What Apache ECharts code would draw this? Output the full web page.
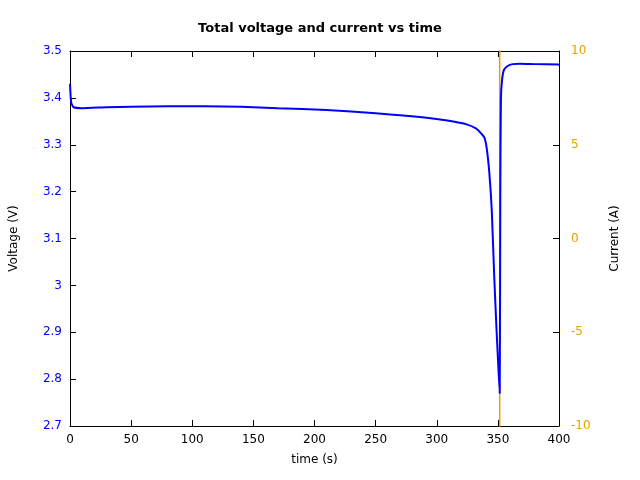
<!DOCTYPE html>
<html><head><meta charset="utf-8">
<script src="https://cdn.jsdelivr.net/npm/echarts@6/dist/echarts.min.js"></script>
<style>html,body{margin:0;background:#fff}#c{width:640px;height:480px}</style>
</head><body><div id="c"></div>
<script>
// voltage vs time
const voltTime = [0, 1, 3, 10, 30, 50, 80, 110, 140, 170, 210, 250, 290, 310, 325, 332, 336, 339, 341, 343, 345, 347, 349, 350.5, 351.5, 352, 352.5, 353.5, 355, 358, 362, 368, 380, 400]
const voltage = [3.43, 3.39, 3.38, 3.378, 3.38, 3.381, 3.382, 3.382, 3.381, 3.378, 3.374, 3.367, 3.358, 3.351, 3.343, 3.335, 3.325, 3.315, 3.29, 3.24, 3.16, 3.02, 2.9, 2.82, 2.77, 3.2, 3.4, 3.44, 3.46, 3.468, 3.472, 3.473, 3.472, 3.471]
// current only shows up as a jump through the whole range at ~351 s
const currTime = [0, 351.5, 351.5, 400]
const current = [-40, -40, 40, 40]

const chart = echarts.init(document.getElementById('c'))
const blue = '#0000ff', orange = '#e6a000'
chart.setOption({
  animation: false,
  title: { text: 'Total voltage and current vs time', left: 'center', top: 17,
    textStyle: { fontSize: 13, fontWeight: 'bold', color: '#000', fontFamily: 'DejaVu Sans' } },
  grid: { left: 69, right: 81, top: 51, bottom: 54 },
  xAxis: [{
    type: 'value', min: 0, max: 400, interval: 50,
    name: 'time (s)', nameLocation: 'middle', nameGap: 28,
    nameTextStyle: { color: '#000', fontSize: 12, fontFamily: 'DejaVu Sans' },
    axisLine: { onZero: false, lineStyle: { color: '#000' } },
    axisTick: { inside: true, length: 6, lineStyle: { color: '#000' } },
    axisLabel: { color: '#000', fontSize: 12, fontFamily: 'DejaVu Sans' },
    splitLine: { show: false }
  }, {
    type: 'value', min: 0, max: 400, interval: 50, position: 'top',
    axisLine: { show: true, onZero: false, lineStyle: { color: '#000' } },
    axisTick: { inside: true, length: 6, lineStyle: { color: '#000' } },
    axisLabel: { show: false }, splitLine: { show: false }
  }],
  yAxis: [{
    type: 'value', min: 2.7, max: 3.5, interval: 0.1,
    name: 'Voltage (V)', nameLocation: 'middle', nameGap: 50,
    nameTextStyle: { color: '#000', fontSize: 12, fontFamily: 'DejaVu Sans' },
    axisLine: { show: true, onZero: false, lineStyle: { color: '#000' } },
    axisTick: { show: true, inside: true, length: 6, lineStyle: { color: '#000' } },
    axisLabel: { color: blue, fontSize: 12, fontFamily: 'DejaVu Sans',
      formatter: v => String(Math.round(v * 10) / 10) },
    splitLine: { show: false }
  }, {
    type: 'value', min: -10, max: 10, interval: 5, position: 'right',
    name: 'Current (A)', nameLocation: 'middle', nameGap: 50, nameRotate: 90,
    nameTextStyle: { color: '#000', fontSize: 12, fontFamily: 'DejaVu Sans' },
    axisLine: { show: true, onZero: false, lineStyle: { color: '#000' } },
    axisTick: { show: true, inside: true, length: 6, lineStyle: { color: '#000' } },
    axisLabel: { color: orange, fontSize: 12, fontFamily: 'DejaVu Sans', margin: 12 },
    splitLine: { show: false }
  }],
  series: [{
    type: 'line', xAxisIndex: 0, yAxisIndex: 1, showSymbol: false, clip: true,
    data: currTime.map((t, i) => [t, current[i]]),
    lineStyle: { color: orange, width: 1.5 }
  }, {
    type: 'line', xAxisIndex: 0, yAxisIndex: 0, showSymbol: false, clip: true, smooth: 0.2,
    data: voltTime.map((t, i) => [t, voltage[i]]),
    lineStyle: { color: blue, width: 2 }
  }]
})
</script></body></html>
